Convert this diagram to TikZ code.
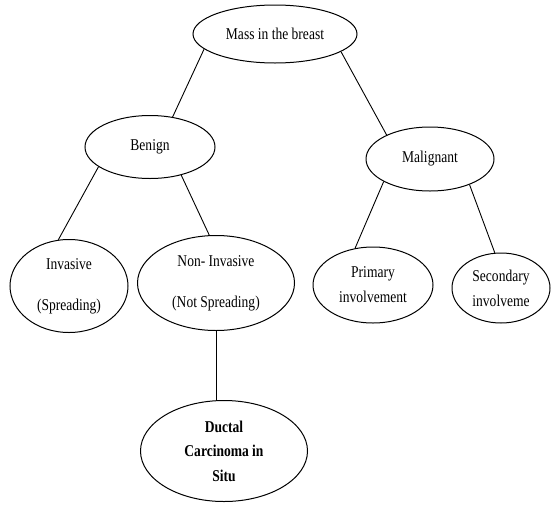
\documentclass[tikz,border=0pt]{standalone}
\usepackage{fontspec}
\setmainfont{Liberation Serif}[FakeStretch=0.82]
\usepackage{tikz}
\usetikzlibrary{shapes.geometric}

\begin{document}
\begin{tikzpicture}[x=1pt,y=-1pt,
	oval/.style={draw,ellipse,inner sep=0pt,line width=1pt,align=center,
		font=\fontsize{16.5}{25}\selectfont}]
	\useasboundingbox (0,0) rectangle (554,504);
	\node [oval,minimum width=164,minimum height=58] (mass) at (275,34) {Mass in the breast};
	\node [oval,minimum width=130,minimum height=63] (benign) at (150,147) {Benign};
	\node [oval,minimum width=128,minimum height=64] (malignant) at (430,159) {Malignant};
	\node [oval,minimum width=118,minimum height=93] (invasive) at (69,286) {Invasive\\[16pt](Spreading)};
	\node [oval,minimum width=157,minimum height=95] (noninv) at (216,283) {Non- Invasive\\[16pt](Not Spreading)};
	\node [oval,minimum width=120,minimum height=76] (primary) at (373,285) {Primary\\involvement};
	\node [oval,minimum width=98,minimum height=70] (secondary) at (501,288) {Secondary\\involveme};
	\node [oval,minimum width=167,minimum height=101,font=\fontsize{16.5}{24.5}\selectfont\bfseries] (ductal) at (224,451) {Ductal\\Carcinoma in\\Situ};
	\path [-, line width=0.9pt]
	(mass.192) edge (benign.53)
	(mass.-15) edge (malignant.151)
	(benign.201) edge (invasive.103)
	(benign.-42) edge (noninv.98)
	(malignant.206) edge (primary.116)
	(malignant.-33) edge (secondary.100)
	(noninv.south) edge (noninv.south |- ductal.north);
\end{tikzpicture}
\end{document}
